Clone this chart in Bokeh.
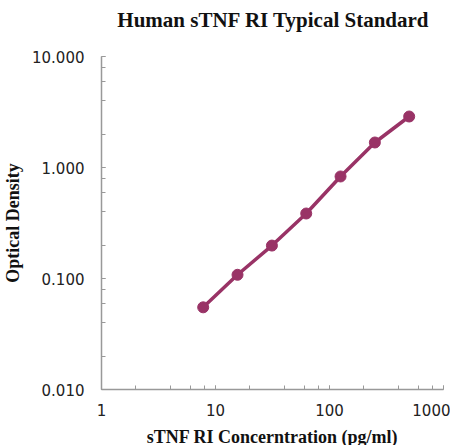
from bokeh.plotting import figure
from bokeh.layouts import column
from bokeh.models import LogTicker, PrintfTickFormatter, NumeralTickFormatter, Range1d
from bokeh.core.properties import value
from bokeh.embed import file_html
from bokeh.resources import INLINE

concentration = [7.8, 15.6, 31.25, 62.5, 125, 250, 500]
optical_density = [0.055, 0.108, 0.198, 0.385, 0.83, 1.68, 2.88]
title_text = "Human sTNF RI Typical Standard"

color = "#993366"

# title strip (same frame geometry as the chart below)
t = figure(frame_width=342, frame_height=44, x_range=Range1d(0, 342), y_range=Range1d(0, 44),
           output_backend="svg", toolbar_location=None,
           min_border_left=93, min_border_right=7, min_border_top=0, min_border_bottom=0)
t.axis.visible = False
t.grid.visible = False
t.outline_line_color = None
t.text(x=[172], y=[25], text=[title_text], text_align="center", text_baseline="middle",
       text_font=value("Liberation Serif"), text_font_size="21px",
       text_font_style="bold", text_color="#111111")

p = figure(frame_width=342, frame_height=333, x_axis_type="log", y_axis_type="log",
           x_range=Range1d(1, 1000), y_range=Range1d(0.01, 10),
           output_backend="svg", toolbar_location=None,
           min_border_left=93, min_border_right=7, min_border_top=12, min_border_bottom=47)

p.line(concentration, optical_density, line_color=color, line_width=3.5)
p.scatter(concentration, optical_density, size=11, fill_color=color, line_color=color)

p.grid.visible = False
p.outline_line_color = None

for ax in (p.xaxis[0], p.yaxis[0]):
    ax.axis_line_color = "#999999"
    ax.axis_line_width = 1.5
    ax.major_tick_line_color = "#999999"
    ax.minor_tick_line_color = "#999999"
    ax.major_tick_in = 4
    ax.major_tick_out = 0
    ax.minor_tick_in = 4
    ax.minor_tick_out = 0
    ax.major_label_text_font = "DejaVu Sans"
    ax.major_label_text_font_size = "15px"
    ax.major_label_text_color = "#222222"
    ax.axis_label_text_font = "Liberation Serif"
    ax.axis_label_text_font_style = "bold"
    ax.axis_label_text_font_size = "18px"
    ax.axis_label_text_color = "#111111"

p.xaxis.ticker = LogTicker(mantissas=[1])
p.yaxis.ticker = LogTicker(mantissas=[1])
p.xaxis.formatter = NumeralTickFormatter(format="0")
p.yaxis.formatter = PrintfTickFormatter(format="%.3f")
p.xaxis.axis_label = "sTNF RI Concerntration (pg/ml)"
p.yaxis.axis_label = "Optical Density"
p.xaxis.major_label_standoff = 14
p.yaxis.major_label_standoff = 17
p.xaxis.axis_label_standoff = 8
p.yaxis.axis_label_standoff = 6

layout = column(t, p, spacing=0)
open("out.html", "w").write(file_html(layout, INLINE))
